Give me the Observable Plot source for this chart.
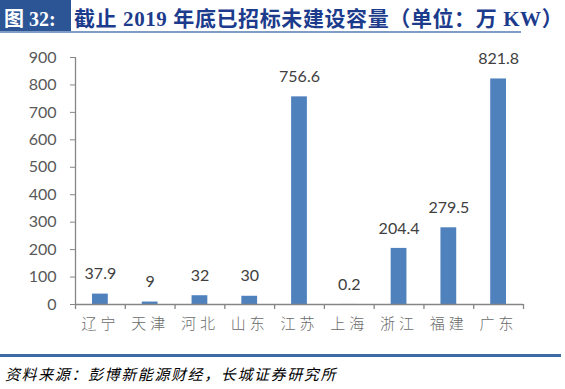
<!DOCTYPE html>
<html>
<head>
<meta charset="utf-8">
<script src="https://cdn.jsdelivr.net/npm/d3@7"></script>
<script src="https://cdn.jsdelivr.net/npm/@observablehq/plot@0.6"></script>
<style>
  html, body { margin: 0; padding: 0; background: #fff; }
  body { width: 565px; height: 389px; position: relative; overflow: hidden; }
  #titlebox { position: absolute; left: 0; top: 0; width: 71px; height: 31px; background: #2c5596; }
  #titlelabel { position: absolute; left: 4px; top: 3px; color: #fff; font: bold 20px "Liberation Serif", "Noto Sans CJK SC", serif; white-space: nowrap; }
  #titletext { position: absolute; left: 74px; top: 2px; color: #1c3b8c; font: bold 21px "Liberation Serif", "Noto Sans CJK SC", serif; letter-spacing: 0.6px; white-space: nowrap; }
  #titleline { position: absolute; left: 0; top: 31px; width: 521px; height: 2px; background: #7f9cc4; }
  #chart { position: absolute; left: 0; top: 40px; }
  #bottomline { position: absolute; left: 0; top: 354px; width: 561px; height: 3px; background: #3e6aa8; }
  #source { position: absolute; left: 5px; top: 363px; color: #000; font: italic 15px "Noto Sans CJK SC", sans-serif; letter-spacing: 1.6px; white-space: nowrap; }
</style>
</head>
<body>
<div id="titlebox"></div>
<div id="titlelabel">图 32:</div>
<div id="titletext">截止 2019 年底已招标未建设容量（单位：万 KW）</div>
<div id="titleline"></div>
<div id="chart"></div>
<div id="bottomline"></div>
<div id="source">资料来源：彭博新能源财经，长城证券研究所</div>
<script>
const categories = ["辽宁", "天津", "河北", "山东", "江苏", "上海", "浙江", "福建", "广东"];
const values = [37.9, 9, 32, 30, 756.6, 0.2, 204.4, 279.5, 821.8];
const valueLabels = ["37.9", "9", "32", "30", "756.6", "0.2", "204.4", "279.5", "821.8"];
const yTicks = [0, 100, 200, 300, 400, 500, 600, 700, 800, 900];

const data = categories.map((c, i) => ({cat: c, i, value: values[i], label: valueLabels[i]}));
const boundaries = d3.range(categories.length + 1);

const chart = Plot.plot({
  width: 565,
  height: 304,
  marginLeft: 75,
  marginRight: 42,
  marginTop: 17,
  marginBottom: 40,
  style: {fontFamily: "Lato, 'Open Sans', sans-serif", background: "transparent"},
  x: {type: "linear", domain: [0, categories.length], axis: null},
  y: {type: "linear", domain: [0, 900], axis: null},
  marks: [
    Plot.rectY(data, {x1: "i", x2: d => d.i + 1, y: "value", fill: "#4f81bd", insetLeft: 17, insetRight: 17}),
    Plot.text(data, {x: d => d.i + 0.5, y: "value", text: "label", dy: -20, fill: "#404040", fontSize: 16, fontFamily: "Lato, 'Open Sans', sans-serif"}),
    Plot.axisY({ticks: yTicks, tickSize: 5, tickPadding: 14, stroke: "#868686", color: "#595959", fontSize: 16, fontFamily: "Lato, 'Open Sans', sans-serif", label: null}),
    Plot.ruleX([0], {stroke: "#868686", strokeWidth: 1.3}),
    Plot.ruleY([0], {stroke: "#868686", strokeWidth: 1.3}),
    Plot.ruleX(boundaries, {x: d => d, stroke: "#868686", strokeWidth: 1.3, render: (index, scales, values, dims, ctx, next) => {
      const g = next(index, scales, values, dims, ctx);
      d3.select(g).selectAll("line").attr("y1", scales.y(0)).attr("y2", scales.y(0) + 5);
      return g;
    }}),
    Plot.text(data, {x: d => d.i + 0.5, y: 0, text: "cat", dy: 20, fill: "#6a6a6a", fontSize: 15, fontFamily: "'Noto Sans CJK SC', sans-serif", fontWeight: 300})
  ]
});
document.getElementById("chart").appendChild(chart);
d3.select(chart).selectAll("text").filter(function() { return categories.includes(this.textContent); }).style("letter-spacing", "4px");
</script>
</body>
</html>
